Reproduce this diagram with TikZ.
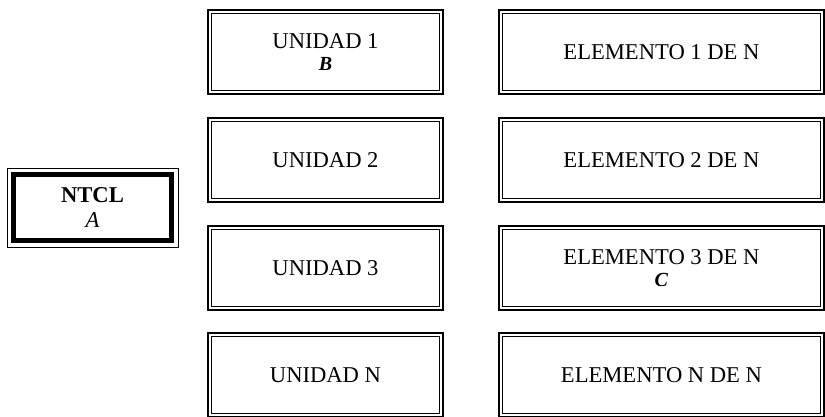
\documentclass[tikz,border=0pt]{standalone}
\usepackage{fontspec}
\setmainfont{Liberation Serif}
\begin{document}
\begin{tikzpicture}[x=1pt,y=1pt,
  ubox/.style={draw, line width=2.4pt, minimum width=235pt, minimum height=84pt,
    inner sep=0pt, align=center, font=\fontsize{22.6}{22}\selectfont,
    path picture={\draw[line width=0.9pt]
      ([xshift=3.6pt,yshift=3.6pt]path picture bounding box.south west) rectangle
      ([xshift=-3.6pt,yshift=-3.6pt]path picture bounding box.north east);}},
  ebox/.style={ubox, minimum width=325pt},
  abox/.style={draw, line width=0.9pt, minimum width=171pt, minimum height=79pt,
    inner sep=0pt, align=center, font=\fontsize{22.6}{24.5}\selectfont,
    path picture={\draw[line width=5pt]
      ([xshift=6.2pt,yshift=6.2pt]path picture bounding box.south west) rectangle
      ([xshift=-6.2pt,yshift=-6.2pt]path picture bounding box.north east);}}
]
\useasboundingbox (0,0) rectangle (825,-417);
\node[abox] (a) at (92.5,-207.5) {\textbf{NTCL}\\\textit{A}};
\node[ubox] (u1) at (325.5,-52) {UNIDAD 1\\{\fontsize{20}{22}\selectfont\textbf{\textit{B}}}};
\node[ubox] (u2) at (325.5,-160) {UNIDAD 2};
\node[ubox] (u3) at (325.5,-268) {UNIDAD 3};
\node[ubox] (un) at (325.5,-375) {UNIDAD N};
\node[ebox] (e1) at (661.5,-52) {ELEMENTO 1 DE N};
\node[ebox] (e2) at (661.5,-160) {ELEMENTO 2 DE N};
\node[ebox] (e3) at (661.5,-268) {ELEMENTO 3 DE N\\{\fontsize{20}{22}\selectfont\textbf{\textit{C}}}};
\node[ebox] (en) at (661.5,-375) {ELEMENTO N DE N};
\end{tikzpicture}
\end{document}
